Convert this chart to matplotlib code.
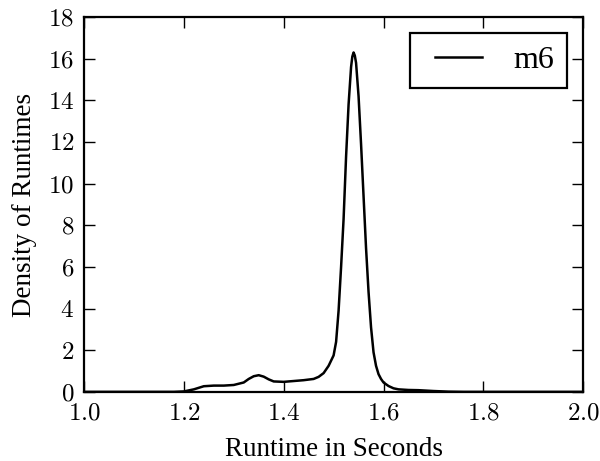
import matplotlib
matplotlib.use("Agg")
import matplotlib.pyplot as plt
from matplotlib.ticker import FuncFormatter, MultipleLocator
from matplotlib.legend_handler import HandlerLine2D

# KDE curve of runtimes
runtime = [1.00, 1.10, 1.18, 1.20, 1.22, 1.24, 1.26, 1.28, 1.30, 1.32, 1.33, 1.34,
           1.35, 1.36, 1.37, 1.38, 1.40, 1.42, 1.44, 1.46, 1.47, 1.48, 1.49, 1.50,
           1.505, 1.51, 1.515, 1.52, 1.525, 1.53, 1.535, 1.5375, 1.54, 1.5425,
           1.545, 1.55, 1.555, 1.56, 1.565, 1.57, 1.575, 1.58, 1.585, 1.59, 1.595,
           1.60, 1.61, 1.62, 1.63, 1.65, 1.67, 1.70, 1.73, 1.76, 1.80, 1.90, 2.00]
density = [0.00, 0.00, 0.00, 0.02, 0.12, 0.27, 0.30, 0.30, 0.33, 0.45, 0.62, 0.75,
           0.80, 0.73, 0.60, 0.50, 0.48, 0.52, 0.56, 0.62, 0.72, 0.90, 1.25, 1.75,
           2.4, 3.9, 6.0, 8.3, 11.3, 13.8, 15.6, 16.1, 16.3, 16.15,
           15.8, 14.2, 11.9, 9.4, 6.9, 4.8, 3.1, 1.9, 1.25, 0.85, 0.62,
           0.45, 0.28, 0.17, 0.12, 0.09, 0.08, 0.04, 0.01, 0.0, 0.0, 0.0, 0.0]
series_label = "m6"

xlim = (1.0, 2.0)
ylim = (0, 18)
xlabel = "Runtime in Seconds"
ylabel = "Density of Runtimes"

plt.rcParams["font.family"] = ["Liberation Serif", "DejaVu Serif"]
plt.rcParams["mathtext.fontset"] = "cm"

fig = plt.figure(figsize=(6.0, 4.61), dpi=100)
ax = fig.add_axes([0.14, 0.150, 0.832, 0.813])

line, = ax.plot(runtime, density, color="black", lw=1.8, label=series_label)

ax.set_xlim(*xlim)
ax.set_ylim(*ylim)
ax.xaxis.set_major_locator(MultipleLocator(0.2))
ax.yaxis.set_major_locator(MultipleLocator(2))
ax.xaxis.set_major_formatter(FuncFormatter(lambda v, p: r"$%.1f$" % v))
ax.yaxis.set_major_formatter(FuncFormatter(lambda v, p: r"$%d$" % round(v)))

ax.tick_params(direction="in", length=8, width=1, labelsize=18,
               top=True, right=True)
ax.tick_params(axis="x", pad=8)
ax.tick_params(axis="y", pad=7)
for s in ax.spines.values():
    s.set_linewidth(1.6)

ax.set_xlabel(xlabel, fontsize=19.5, labelpad=9)
ax.set_ylabel(ylabel, fontsize=19.5, labelpad=8)

leg = ax.legend(loc="upper right", fontsize=23, fancybox=False, framealpha=1,
                edgecolor="black", handlelength=1.85, borderpad=0.4,
                handletextpad=1.0,
                handler_map={line: HandlerLine2D(xpad=0.4)})
leg.get_frame().set_linewidth(1.6)

fig.savefig("out.png", dpi=100)
